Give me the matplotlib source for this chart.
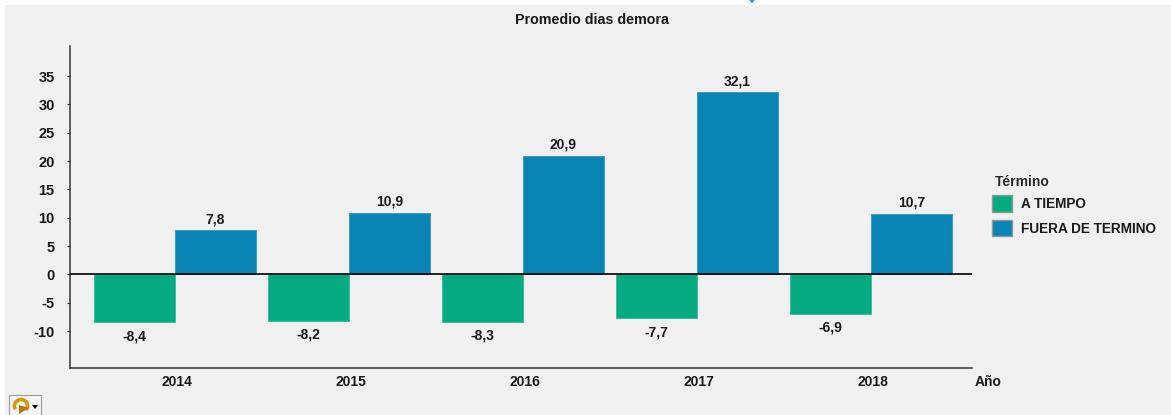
import numpy as np
import matplotlib
matplotlib.use('Agg')
import matplotlib.pyplot as plt
from matplotlib.patches import Rectangle, Patch, Arc, Polygon

plt.rcParams['font.family'] = ['Liberation Sans', 'DejaVu Sans']

anios = ['2014', '2015', '2016', '2017', '2018']
a_tiempo = [-8.4, -8.2, -8.3, -7.7, -6.9]
fuera_termino = [7.8, 10.9, 20.9, 32.1, 10.7]
y_ticks = [-10, -5, 0, 5, 10, 15, 20, 25, 30, 35]

W, H = 1171, 415
BG = '#f0f0f0'
VERDE = '#05aa80'
AZUL = '#0a83b5'
TEXTO = '#1a1a1a'

fig = plt.figure(figsize=(W/100, H/100), dpi=100, facecolor='white')

# panel gris de fondo
fig.add_artist(Rectangle((5/W, 0), (W-5)/W, (H-5)/H, transform=fig.transFigure,
                         facecolor=BG, edgecolor='none', zorder=-1))

ax = fig.add_axes([70/W, 1-368/H, 902/W, 322/H], facecolor='none')

x = np.arange(len(anios))
ancho = 0.464

b1 = ax.bar(x-ancho/2, a_tiempo, ancho, color=VERDE, edgecolor='#3dbd9c', linewidth=0.7, label='A TIEMPO')
b2 = ax.bar(x+ancho/2, fuera_termino, ancho, color=AZUL, edgecolor='#3c9cc4', linewidth=0.7, label='FUERA DE TERMINO')

fmt = lambda v: f'{v:.1f}'.replace('.', ',')
ax.bar_label(b1, labels=[fmt(v) for v in a_tiempo], padding=5, fontsize=10, fontweight='bold', color=TEXTO)
ax.bar_label(b2, labels=[fmt(v) for v in fuera_termino], padding=3, fontsize=10, fontweight='bold', color=TEXTO)

ax.set_xlim(-0.603, 4.580)
ax.set_ylim(-16.5, 40.3)
ax.axhline(0, color='black', linewidth=1.2, zorder=5)

ax.set_xticks(x+0.012)
ax.set_xticklabels(anios, fontsize=10, fontweight='bold', color=TEXTO)
ax.set_yticks(y_ticks)
ax.set_yticklabels([str(v) for v in y_ticks], fontsize=10.5, fontweight='bold', color=TEXTO)
ax.tick_params(axis='x', length=0, pad=5)
ax.tick_params(axis='y', length=2, width=0.8, pad=9, color='#333333')

for s in ['top', 'right']:
    ax.spines[s].set_visible(False)
for s in ['left', 'bottom']:
    ax.spines[s].set_color('#333333')
    ax.spines[s].set_linewidth(1.1)

fig.text(592/W, 1-20/H, 'Promedio dias demora', ha='center', va='center',
         fontsize=10.3, fontweight='bold', color=TEXTO)
fig.text(975/W, 1-382/H, 'Año', ha='left', va='center', fontsize=10, fontweight='bold', color=TEXTO)

handles = [Patch(facecolor=VERDE, edgecolor='#8a9a96', label='A TIEMPO'),
           Patch(facecolor=AZUL, edgecolor='#8a9a96', label='FUERA DE TERMINO')]
fig.text(995/W, 1-182/H, 'Término', ha='left', va='center', fontsize=10, fontweight='bold', color='#2a2a2a')
leg = fig.legend(handles=handles, loc='upper left', bbox_to_anchor=(987/W, 1-190/H),
                 frameon=False, handlelength=1.4, handleheight=1.5, handletextpad=0.68,
                 labelspacing=0.55, borderpad=0.4, borderaxespad=0,
                 prop={'size': 9.85, 'weight': 'bold'})
for t in leg.get_texts():
    t.set_color(TEXTO)

# boton de menu abajo a la izquierda
btn = fig.add_axes([0, 0, 1, 1], facecolor='none')
btn.set_xlim(0, W)
btn.set_ylim(H, 0)
btn.axis('off')
btn.add_patch(Rectangle((9, 395), 32, 21, facecolor='#f4f4f4', edgecolor='#9a9a9a', linewidth=0.8))
btn.add_patch(Arc((21, 406), 13, 13, theta1=150, theta2=400, color='#d9960f', linewidth=2.6))
btn.add_patch(Polygon([[19, 414], [29, 408], [19, 405]], facecolor='#b57a0a', edgecolor='none'))
btn.add_patch(Polygon([[32, 405], [38, 405], [35, 409]], facecolor='black', edgecolor='none'))
# marca azul cortada arriba
btn.add_patch(Polygon([[749, 0], [755, 0], [752, 3]], facecolor='#4a86d8', edgecolor='none'))

fig.savefig('out.png', dpi=100, facecolor='white')
